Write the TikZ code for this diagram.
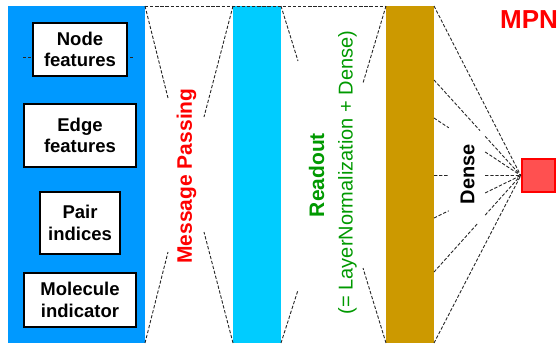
\documentclass[tikz,border=0pt]{standalone}
\usepackage{fontspec}
\setmainfont{Liberation Sans}
\usetikzlibrary{calc}
\definecolor{inblue}{HTML}{0099FF}
\definecolor{mpcyan}{HTML}{00CCFF}
\definecolor{rdbrown}{HTML}{CC9900}
\definecolor{outred}{HTML}{FF5050}
\definecolor{lblgreen}{HTML}{009900}
\tikzset{
  bar/.style={anchor=north west, inner sep=0pt, outer sep=0pt, draw=none},
  inbox/.style={draw=black, line width=2bp, fill=white, inner sep=0pt, align=center,
    font=\bfseries\fontsize{18.5bp}{21.5bp}\selectfont},
  dl/.style={draw=black!85, line width=0.9bp, dash pattern=on 3.3bp off 1.8bp},
  vlabel/.style={rotate=90, inner sep=0pt}
}
\begin{document}
\begin{tikzpicture}[x=1bp, y=-1bp]
\useasboundingbox (0,0) rectangle (560,343);

% layer bars
\node[bar, fill=inblue, minimum width=137bp, minimum height=337bp] (inp) at (8,6) {};
\node[bar, fill=mpcyan, minimum width=48bp, minimum height=337bp] (mp) at (233,6) {};
\node[bar, fill=rdbrown, minimum width=48bp, minimum height=337bp] (rd) at (386,6) {};

% dashed rule behind the first input box
\coordinate (nl) at (23,57);
\coordinate (nr) at (133,57);
\draw[dl] (nl) -- (nr);

% inputs
\node[inbox, minimum width=94bp, minimum height=53bp] (nf) at (80,49.5) {Node\\features};
\node[inbox, minimum width=112bp, minimum height=63bp] (ef) at (80,135.5) {Edge\\features};
\node[inbox, minimum width=80bp, minimum height=62bp] (pi) at (80,223) {Pair\\indices};
\node[inbox, minimum width=112bp, minimum height=54bp] (mi) at (80,300) {Molecule\\indicator};

% top edge of the funnels
\draw[dl] (inp.north east) -- (rd.north west);

% message passing funnel
\coordinate (m1) at (168,98);
\coordinate (m2) at (204,117);
\coordinate (m3) at (168,252);
\coordinate (m4) at (204,232);
\draw[dl] (inp.north east) -- (m1);
\draw[dl] (mp.north west) -- (m2);
\draw[dl] (inp.south east) -- (m3);
\draw[dl] (mp.south west) -- (m4);

% readout funnel
\coordinate (r1) at (298,61);
\coordinate (r2) at (363,83);
\coordinate (r3) at (298,290);
\coordinate (r4) at (363,268);
\draw[dl] (mp.north east) -- (r1);
\draw[dl] (rd.north west) -- (r2);
\draw[dl] (mp.south east) -- (r3);
\draw[dl] (rd.south west) -- (r4);

% output unit
\node[draw=red, fill=outred, line width=2.5bp, minimum size=33bp, inner sep=0pt] (out) at (538.5,175.5) {};

% dense connections
\coordinate (d2) at (434,80);
\coordinate (d3) at (434,118);
\coordinate (d4) at (434,175.5);
\coordinate (d5) at (434,218);
\coordinate (d6) at (434,272);
\draw[dl] (rd.north east) -- (out.west);
\draw[dl] (d2) -- ($(d2)!0.53!(out.west)$) ($(d2)!0.59!(out.west)$) -- (out.west);
\draw[dl] (d3) -- ($(d3)!0.17!(out.west)$) ($(d3)!0.59!(out.west)$) -- (out.west);
\draw[dl] (d4) -- ($(d4)!0.17!(out.west)$) ($(d4)!0.59!(out.west)$) -- (out.west);
\draw[dl] (d5) -- ($(d5)!0.17!(out.west)$) ($(d5)!0.59!(out.west)$) -- (out.west);
\draw[dl] (d6) -- ($(d6)!0.51!(out.west)$) ($(d6)!0.59!(out.west)$) -- (out.west);
\draw[dl] (rd.south east) -- (out.west);

% labels
\node[vlabel, text=red, font=\bfseries\fontsize{21bp}{24bp}\selectfont] (lmp) at (186.5,176) {Message Passing};
\node[vlabel, text=lblgreen, font=\bfseries\fontsize{21bp}{24bp}\selectfont] (lrd) at (316.5,175) {Readout};
\node[vlabel, text=lblgreen, font=\fontsize{20bp}{24bp}\selectfont] (lln) at (347.5,172.5) {(= LayerNormalization + Dense)};
\node[vlabel, text=black, font=\bfseries\fontsize{20bp}{24bp}\selectfont] (lds) at (467.5,174) {Dense};
\node[inner sep=0pt, text=red, font=\bfseries\fontsize{26bp}{30bp}\selectfont] (lmpn) at (529,20) {MPN};
\end{tikzpicture}
\end{document}
